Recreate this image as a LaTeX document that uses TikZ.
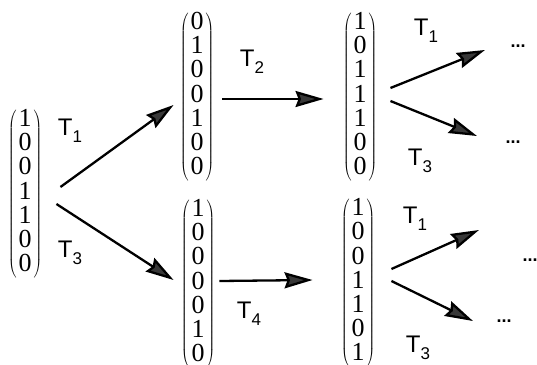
\documentclass[tikz,border=0pt]{standalone}
\usepackage{fontspec}
\newfontfamily\labelfont{Liberation Sans}
\newfontfamily\digitfont{Liberation Serif}
\usetikzlibrary{positioning,arrows.meta}

\newcommand{\vcol}[1]{$\left(\vcenter{\hbox{\begin{tabular}{@{\hspace{2pt}}c@{\hspace{2pt}}}#1\end{tabular}}}\right)$}
\newcommand{\tlab}[1]{T\raisebox{-7pt}{\fontsize{17}{17}\selectfont #1}}

\begin{document}
\begin{tikzpicture}[
  x=1pt, y=-1pt,
  vecnode/.style={inner sep=0pt,font=\digitfont\fontsize{26}{23.3}\selectfont},
  tlabel/.style={font=\labelfont\fontsize{24}{24}\selectfont},
  moredots/.style={font=\labelfont\bfseries\fontsize{18}{18}\selectfont},
  arr/.style={line width=2.3pt,-{Stealth[length=28pt,width=16pt,inset=3pt,fill=black!78]}}
]
\clip (0,0) rectangle (537,364);

\node[vecnode] (root) at (25,194) {\vcol{1\\0\\0\\1\\1\\0\\0}};
\node[vecnode] (tm) at (197,97) {\vcol{0\\1\\0\\0\\1\\0\\0}};
\node[vecnode] (tr) at (360,97) {\vcol{1\\0\\1\\1\\1\\0\\0}};
\node[vecnode] (bm) at (198,284) {\vcol{1\\0\\0\\0\\0\\1\\0}};
\node[vecnode] (br) at (358,283) {\vcol{1\\0\\0\\1\\1\\0\\1}};

\node[tlabel] (t1a) at (70,131) {\tlab{1}};
\node[tlabel] (t3a) at (70,253) {\tlab{3}};
\node[tlabel] (t2) at (252,62) {\tlab{2}};
\node[tlabel] (t4) at (249,314) {\tlab{4}};
\node[tlabel] (t1b) at (426,31) {\tlab{1}};
\node[tlabel] (t3b) at (420,161) {\tlab{3}};
\node[tlabel] (t1c) at (415,219) {\tlab{1}};
\node[tlabel] (t3c) at (418,348) {\tlab{3}};

\node[moredots] (d1) at (518,46) {...};
\node[moredots] (d2) at (513,142) {...};
\node[moredots] (d3) at (530,260) {...};
\node[moredots] (d4) at (504,321) {...};

\path (root.east) ++(18,-7) coordinate (s1)
      (root.east) ++(14,10) coordinate (s2);
\path (s1) edge[arr] ([shift={(-6,8)}]tm.west)
      (s2) edge[arr] ([shift={(-7,-4)}]bm.west)
      ([shift={(8,2)}]tm.east) edge[arr] ([shift={(-19,2)}]tr.west)
      ([shift={(4,-3)}]bm.east) edge[arr] ([shift={(-28,-3)}]br.west)
      ([shift={(13,-9)}]tr.east) edge[arr] ([shift={(-22,4)}]d1.west)
      ([shift={(13,4)}]tr.east) edge[arr] ([shift={(-25,-6)}]d2.west)
      ([shift={(16,-14)}]br.east) edge[arr] ([shift={(-40,-30)}]d3.west)
      ([shift={(16,-2)}]br.east) edge[arr] ([shift={(-20,0)}]d4.west)
;
\end{tikzpicture}
\end{document}
